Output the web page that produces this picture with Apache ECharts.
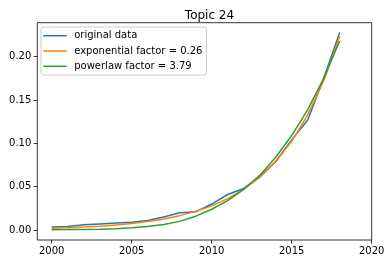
<!DOCTYPE html>
<html>
<head>
<meta charset="utf-8">
<script src="https://cdn.jsdelivr.net/npm/echarts@6/dist/echarts.min.js"></script>
<style>html,body{margin:0;padding:0;background:#fff}#c{width:391px;height:264px}</style>
</head>
<body>
<div id="c"></div>
<script>
const years = [2000,2001,2002,2003,2004,2005,2006,2007,2008,2009,2010,2011,2012,2013,2014,2015,2016,2017,2018];
const original = [0.0035,0.004,0.006,0.007,0.008,0.009,0.011,0.015,0.020,0.021,0.030,0.041,0.048,0.061,0.079,0.104,0.127,0.175,0.228];
const exponential = [0.0021,0.0027,0.0035,0.0045,0.0059,0.0076,0.0099,0.0128,0.0166,0.0215,0.0279,0.0362,0.0469,0.0609,0.079,0.1024,0.1329,0.1723,0.2235];
const powerlaw = [0.0004,0.0005,0.0007,0.001,0.0015,0.0025,0.004,0.0065,0.010,0.016,0.024,0.034,0.047,0.063,0.084,0.109,0.139,0.175,0.218];
const xTicks = [2000,2005,2010,2015,2020];
const yTicks = [0,0.05,0.1,0.15,0.2];
const names = ['original data','exponential factor = 0.26','powerlaw factor = 3.79'];
const colors = ['#1f77b4','#ff7f0e','#2ca02c'];
const seriesVals = [original, exponential, powerlaw];

const font = 'DejaVu Sans';
const chart = echarts.init(document.getElementById('c'));
chart.setOption({
  animation: false,
  title: {text: 'Topic 24', left: 204.5, top: 5, textAlign: 'center',
    textStyle: {fontFamily: font, fontSize: 12, fontWeight: 'normal', color: '#000'}},
  grid: {left: 37.3, right: 19.3, top: 22.7, bottom: 24, show: true, borderColor: '#000', borderWidth: 0.8, backgroundColor: 'transparent'},
  legend: {
    orient: 'vertical', left: 41, top: 27,
    padding: [2.7, 4, 2.7, 2.3], itemGap: 3.3,
    itemWidth: 23.4, itemHeight: 1.5, icon: 'rect',
    borderColor: '#cccccc', borderWidth: 1, borderRadius: 2.5,
    backgroundColor: 'rgba(255,255,255,0.8)',
    textStyle: {fontFamily: font, fontSize: 10, color: '#000', lineHeight: 12, padding: [0,0,0,2.5]},
    data: names
  },
  xAxis: {
    type: 'value', min: 1999.1, max: 2020,
    axisLine: {show: false, onZero: false},
    splitLine: {show: false},
    axisTick: {show: true, inside: false, length: 3.5, lineStyle: {color: '#000', width: 0.8}, customValues: xTicks},
    axisLabel: {customValues: xTicks, margin: 6, fontFamily: font, fontSize: 10, color: '#000',
      formatter: v => String(v)}
  },
  yAxis: {
    type: 'value', min: -0.0115, max: 0.2392,
    axisLine: {show: false, onZero: false},
    splitLine: {show: false},
    axisTick: {show: true, inside: false, length: 3.5, lineStyle: {color: '#000', width: 0.8}, customValues: yTicks},
    axisLabel: {customValues: yTicks, margin: 6, fontFamily: font, fontSize: 10, color: '#000',
      formatter: v => v.toFixed(2)}
  },
  series: seriesVals.map((vals, i) => ({
    name: names[i], type: 'line', showSymbol: false, symbol: 'none',
    color: colors[i],
    lineStyle: {width: 1.5, color: colors[i]},
    itemStyle: {color: colors[i]},
    data: years.map((y, j) => [y, vals[j]])
  }))
});
</script>
</body>
</html>
